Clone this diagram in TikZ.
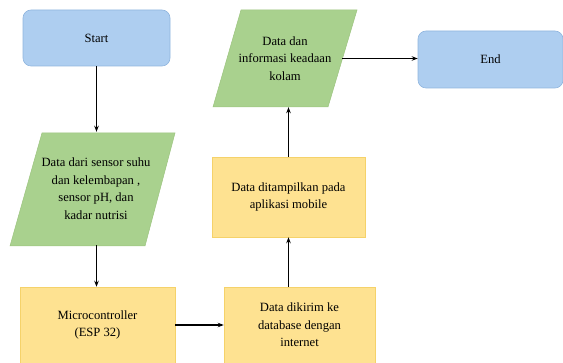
\documentclass[tikz,border=0pt]{standalone}
\usepackage{fontspec}
\setmainfont{Liberation Serif}
\usetikzlibrary{arrows.meta}
\definecolor{bluefill}{HTML}{AECEF0}
\definecolor{blueline}{HTML}{90B5DE}
\definecolor{greenfill}{HTML}{A9D18E}
\definecolor{greenline}{HTML}{9CC47F}
\definecolor{yellowfill}{HTML}{FEE291}
\definecolor{yellowline}{HTML}{F5D26A}
\tikzset{
  lbl/.style={font=\rmfamily\fontsize{12.6}{17.5}\selectfont, align=center},
  term/.style={rectangle, rounded corners=8pt, fill=bluefill, draw=blueline, line width=0.6pt, lbl},
  procbox/.style={rectangle, fill=yellowfill, draw=yellowline, line width=0.5pt, lbl},
  iotext/.style={rectangle, draw=none, lbl},
  iofill/.style={fill=greenfill, draw=greenline, line width=0.5pt},
  flow/.style={-{Stealth[length=6pt,width=4.5pt]}, line width=1.1pt, draw=black}
}
\begin{document}
\begin{tikzpicture}[x=1pt,y=-1pt]
\useasboundingbox (0,0) rectangle (563,363);
% parallelogram shapes
\path[iofill] (42,133) -- (175,133) -- (145,246) -- (10,246) -- cycle;
\path[iofill] (241,10) -- (357,10) -- (328,107) -- (213,107) -- cycle;
% nodes
\node[term, minimum width=147pt, minimum height=56pt] (start) at (96.5,38) {Start};
\node[term, minimum width=145pt, minimum height=57pt] (end) at (490.5,59.5) {End};
\node[iotext, minimum width=110pt, minimum height=113pt] (p1) at (96,188.5) {Data dari sensor suhu\\dan kelembapan ,\\sensor pH, dan\\kadar nutrisi};
\node[iotext, minimum width=114pt, minimum height=97pt] (p2) at (285,58.5) {Data dan\\informasi keadaan\\kolam};
\node[procbox, minimum width=155pt, minimum height=76pt] (micro) at (97.5,325) {Microcontroller\\(ESP 32)};
\node[procbox, minimum width=151pt, minimum height=76pt] (kirim) at (299.5,325) {Data dikirim ke\\database dengan\\internet};
\node[procbox, minimum width=153pt, minimum height=80pt] (tampil) at (288.5,197) {Data ditampilkan pada\\aplikasi mobile};
% connectors
\draw[flow] (start.south) -- (start.south |- p1.north);
\draw[flow] (start.south |- p1.south) -- (start.south |- micro.north);
\draw[flow] (micro.east) -- (kirim.west);
\draw[flow] (tampil.south |- kirim.north) -- (tampil.south);
\draw[flow] (tampil.north) -- (tampil.north |- p2.south);
\draw[flow] (p2.east) -- (p2.east -| end.west);
\end{tikzpicture}
\end{document}
